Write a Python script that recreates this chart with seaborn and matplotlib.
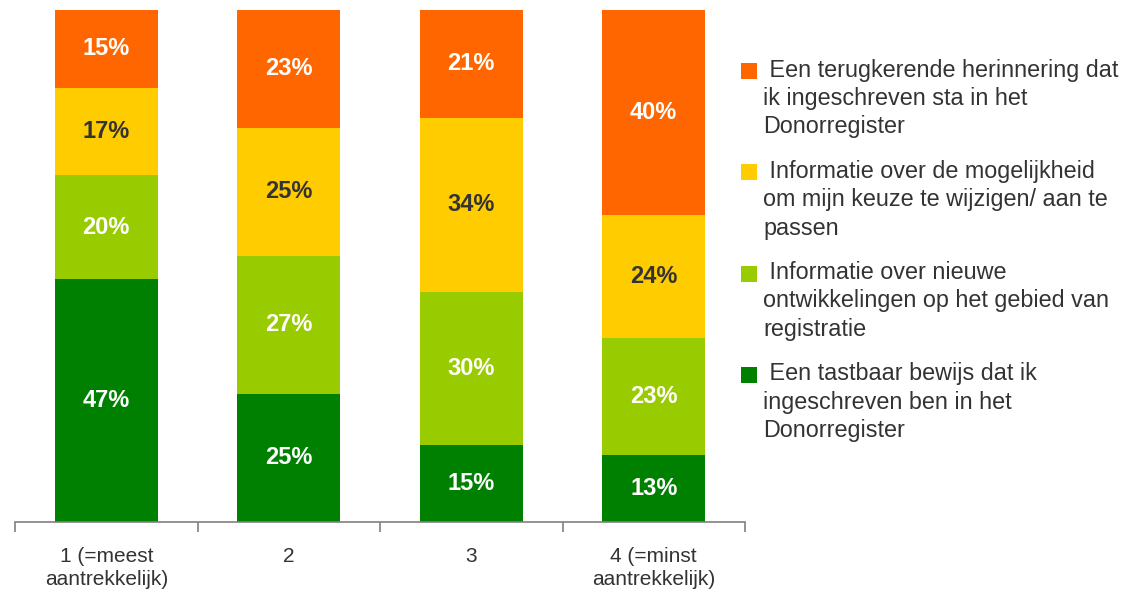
import matplotlib
matplotlib.use("Agg")
import matplotlib.pyplot as plt
import seaborn as sns
import numpy as np
import pandas as pd
from matplotlib.patches import Rectangle

# Ranking categories
categories = ["1 (=meest\naantrekkelijk)", "2", "3", "4 (=minst\naantrekkelijk)"]

# Percentage per option, bottom to top in each bar
tastbaar_bewijs = [47, 25, 15, 13]
nieuwe_ontwikkelingen = [20, 27, 30, 23]
keuze_wijzigen = [17, 25, 34, 24]
herinnering = [15, 23, 21, 40]

series_labels = [
    "Een tastbaar bewijs dat ik\ningeschreven ben in het\nDonorregister",
    "Informatie over nieuwe\nontwikkelingen op het gebied van\nregistratie",
    "Informatie over de mogelijkheid\nom mijn keuze te wijzigen/ aan te\npassen",
    "Een terugkerende herinnering dat\nik ingeschreven sta in het\nDonorregister",
]
series_colors = ["#008000", "#99CC00", "#FFCC00", "#FF6600"]
label_colors = ["white", "white", "#333333", "white"]

series = [tastbaar_bewijs, nieuwe_ontwikkelingen, keuze_wijzigen, herinnering]

sns.set_theme(style="white")
plt.rcParams["font.family"] = ["Liberation Sans", "DejaVu Sans"]

fig = plt.figure(figsize=(11.35, 5.98), dpi=100)
ax = fig.add_axes([15 / 1135, 1 - 522 / 598, 730 / 1135, 512 / 598])

values = np.array(series, dtype=float)          # shape (series, categories)
shares = values / values.sum(axis=0) * 100       # 100% stacked
cum = np.cumsum(shares, axis=0)

# Draw cumulative heights from the top layer down so each segment shows
for i in range(len(series) - 1, -1, -1):
    df = pd.DataFrame({"cat": categories, "val": cum[i]})
    sns.barplot(data=df, x="cat", y="val", color=series_colors[i],
                saturation=1, width=0.565, ax=ax, linewidth=0)

# Value labels in the middle of each segment
for i in range(len(series)):
    for j in range(len(categories)):
        mid = cum[i, j] - shares[i, j] / 2
        ax.text(j, mid, f"{series[i][j]}%", ha="center", va="center",
                color=label_colors[i], fontsize=17, fontweight="bold")

ax.set_xlim(-0.5, len(categories) - 0.5)
ax.set_ylim(0, 100)
ax.set_xlabel("")
ax.set_ylabel("")
ax.set_yticks([])
for side in ["left", "right", "top"]:
    ax.spines[side].set_visible(False)
ax.spines["bottom"].set_color("#808080")
ax.spines["bottom"].set_linewidth(1.2)

ax.set_xticks(range(len(categories)))
ax.set_xticklabels(categories, fontsize=15, color="#333333", linespacing=1.25)
ax.tick_params(axis="x", which="major", length=0, pad=18)
ax.set_xticks(np.arange(-0.5, len(categories)), minor=True)
ax.tick_params(axis="x", which="minor", length=7, width=1.2,
               color="#808080", direction="out")
ax.xaxis.set_tick_params(which="minor", bottom=True)

# Legend: top series first
legend_order = [3, 2, 1, 0]
y0 = 71
dy = 101.3
for k, i in enumerate(legend_order):
    yc = y0 + k * dy
    fig.patches.append(Rectangle((741 / 1135, 1 - (yc + 8) / 598), 16 / 1135, 16 / 598,
                                 transform=fig.transFigure, color=series_colors[i],
                                 linewidth=0))
    lines = series_labels[i].split("\n")
    lines[0] = " " + lines[0]
    fig.text(763 / 1135, 1 - (yc - 12.5) / 598, "\n".join(lines), ha="left", va="top",
             fontsize=16.8, color="#333333", linespacing=1.3)

fig.savefig("out.png", dpi=100)
